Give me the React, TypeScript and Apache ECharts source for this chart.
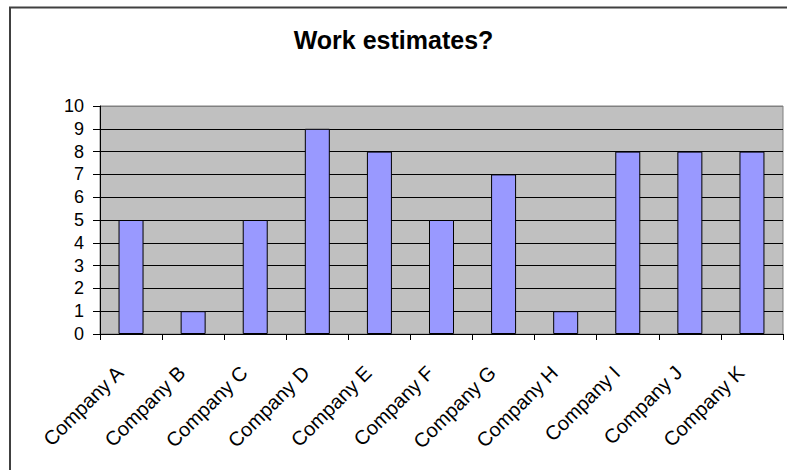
import React, { useEffect, useRef } from "react";
import * as echarts from "echarts";

const companies = [
  "Company A", "Company B", "Company C", "Company D", "Company E", "Company F",
  "Company G", "Company H", "Company I", "Company J", "Company K",
];
const estimates = [5, 1, 5, 9, 8, 5, 7, 1, 8, 8, 8];
const yTicks = [0, 1, 2, 3, 4, 5, 6, 7, 8, 9, 10];

export default function App() {
  const ref = useRef<HTMLDivElement>(null);

  useEffect(() => {
    if (!ref.current) return;
    const chart = echarts.init(ref.current, undefined, { renderer: "svg" });
    const font = "'Liberation Sans', Arial, sans-serif";
    // gridlines black, the top one blends into the gray plot border
    const splitColors = yTicks.map((v) => (v === 10 ? "#808080" : "#000000"));
    chart.setOption({
      animation: false,
      backgroundColor: "#ffffff",
      title: {
        text: "Work estimates?",
        left: "center",
        top: 22,
        textStyle: { fontFamily: font, fontSize: 25, fontWeight: "bold", color: "#000" },
      },
      grid: {
        left: 100,
        right: 4,
        top: 106,
        bottom: 136,
        show: true,
        backgroundColor: "#C0C0C0",
        borderColor: "#808080",
        borderWidth: 1,
      },
      xAxis: {
        type: "category",
        data: companies,
        boundaryGap: true,
        axisLine: { lineStyle: { color: "#000", width: 1 } },
        axisTick: { show: true, length: 6, alignWithLabel: false, lineStyle: { color: "#000" } },
        axisLabel: {
          rotate: 45,
          interval: 0,
          margin: 24,
          padding: [0, 16, 0, 0],
          fontFamily: font,
          fontSize: 20,
          color: "#000",
        },
      },
      yAxis: {
        type: "value",
        min: 0,
        max: 10,
        interval: 1,
        axisLine: { show: true, lineStyle: { color: "#000", width: 1 } },
        axisTick: { show: true, length: 7, lineStyle: { color: "#000" } },
        axisLabel: { margin: 16, fontFamily: font, fontSize: 18, color: "#000" },
        splitLine: { show: true, lineStyle: { color: splitColors, width: 1 } },
      },
      series: [
        {
          type: "bar",
          data: estimates,
          barWidth: 25,
          itemStyle: { color: "#9999FF", borderColor: "#000", borderWidth: 1 },
        },
      ],
      graphic: [
        {
          type: "rect",
          shape: { x: 10, y: 7.5, width: 900, height: 600 },
          style: { fill: "none", stroke: "#404040", lineWidth: 2 },
          silent: true,
        },
      ],
    });
    return () => chart.dispose();
  }, []);

  return (
    <div
      ref={ref}
      style={{ position: "absolute", left: 0, top: 0, width: 787, height: 470 }}
    />
  );
}
